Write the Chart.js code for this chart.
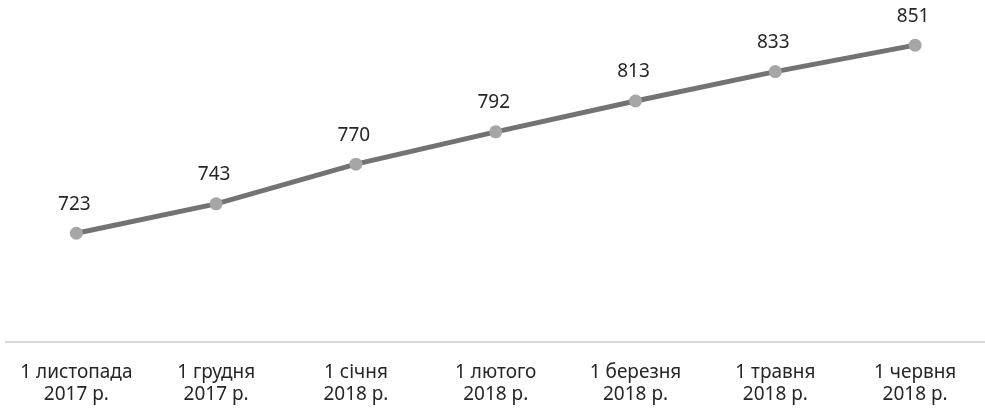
<!DOCTYPE html>
<html>
<head>
<meta charset="utf-8">
<script src="https://cdn.jsdelivr.net/npm/chart.js@4.4.1/dist/chart.umd.min.js"></script>
<style>
  html, body { margin: 0; padding: 0; background: #fff; }
  #wrap { width: 985px; height: 408px; }
</style>
</head>
<body>
<div id="wrap"><canvas id="c" width="985" height="408"></canvas></div>
<script>
// Дані графіка
const labels = [
  ['1 листопада', '2017 р.'],
  ['1 грудня', '2017 р.'],
  ['1 січня', '2018 р.'],
  ['1 лютого', '2018 р.'],
  ['1 березня', '2018 р.'],
  ['1 травня', '2018 р.'],
  ['1 червня', '2018 р.']
];
const values = [723, 743, 770, 792, 813, 833, 851];

// Підписи значень над точками
const valueLabels = {
  id: 'valueLabels',
  afterDatasetsDraw(chart) {
    const ctx = chart.ctx;
    const meta = chart.getDatasetMeta(0);
    ctx.save();
    ctx.font = '19px "Noto Sans", sans-serif';
    ctx.fillStyle = '#262626';
    ctx.textAlign = 'center';
    ctx.textBaseline = 'middle';
    meta.data.forEach(function(pt, i) {
      ctx.fillText(String(values[i]), pt.x - 2, pt.y - 29);
    });
    ctx.restore();
  }
};

new Chart(document.getElementById('c').getContext('2d'), {
  type: 'line',
  data: {
    labels: labels,
    datasets: [{
      data: values,
      borderColor: '#737373',
      borderWidth: 5,
      pointBackgroundColor: '#a6a6a6',
      pointBorderWidth: 0,
      pointRadius: 6.5,
      tension: 0,
      fill: false
    }]
  },
  options: {
    responsive: false,
    animation: false,
    layout: { autoPadding: false, padding: { left: 3, right: 0, top: 4, bottom: 0 } },
    plugins: { legend: { display: false }, tooltip: { enabled: false } },
    scales: {
      y: { display: false, min: 649, max: 879 },
      x: {
        offset: true,
        afterFit: function(scale) { scale.height = 66; },
        grid: { display: false, drawTicks: false },
        border: { display: true, color: '#d9d9d9', width: 2 },
        ticks: {
          padding: 20,
          maxRotation: 0,
          autoSkip: false,
          color: '#262626',
          font: { family: '"Noto Sans", sans-serif', size: 19, lineHeight: '22px' }
        }
      }
    }
  },
  plugins: [valueLabels]
});
</script>
</body>
</html>
